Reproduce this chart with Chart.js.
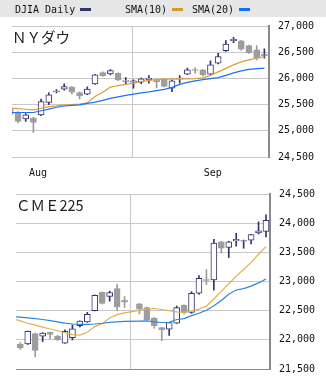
<!DOCTYPE html>
<html><head><meta charset="utf-8">
<script src="https://cdn.jsdelivr.net/npm/chart.js@4.4.1/dist/chart.umd.min.js"></script>
<style>
html,body{margin:0;padding:0;background:#fff;}
#wrap{position:relative;width:326px;height:376px;overflow:hidden;background:#fff;}
canvas{position:absolute;left:0;}
#hdr{position:absolute;left:0;top:0;width:326px;height:17px;background:#e6e6e6;font-family:"DejaVu Sans Mono",monospace;font-size:10px;color:#111;}
.lg{position:absolute;top:4px;line-height:12px;white-space:pre;}
.sw{position:absolute;top:8px;height:3px;width:11px;}
.ttl{position:absolute;font-family:"Noto Sans CJK JP",sans-serif;font-size:14.5px;line-height:14.5px;color:#222;white-space:pre;}
</style></head>
<body>
<div id="wrap">
<canvas id="c1" width="326" height="180" style="top:0;width:326px;height:180px"></canvas>
<canvas id="c2" width="326" height="203" style="top:180px;width:326px;height:203px"></canvas>
<div id="hdr">
  <span class="lg" style="left:15px">DJIA Daily</span><span class="sw" style="left:80px;background:#34346c"></span>
  <span class="lg" style="left:125px">SMA(10)</span><span class="sw" style="left:172px;background:#d49a30"></span>
  <span class="lg" style="left:192px">SMA(20)</span><span class="sw" style="left:239px;background:#1070ff"></span>
</div>
<div class="ttl" style="left:12px;top:30px">ＮＹダウ</div>
<div class="ttl" style="left:16px;top:198px">ＣＭＥ225</div>
</div>
<script>
// ---- NY Dow (DJIA daily) ----
const djDates = ['8/10','8/13','8/14','8/15','8/16','8/17','8/20','8/21','8/22','8/23','8/24','8/27','8/28','8/29','8/30','8/31','9/4','9/5','9/6','9/7','9/10','9/11','9/12','9/13','9/14','9/17','9/18','9/19','9/20','9/21','9/24','9/25','9/26','9/27'];
const djOpen  = [25420,25340,25226,25245,25307,25542,25745,25798,25836,25733,25703,25899,26115,26090,26103,25948,25931,25931,25981,25975,25994,25817,25995,26084,26170,26166,26084,26294,26534,26725,26720,26630,26548,26445];
const djHigh  = [25440,25370,25330,25260,25610,25727,25790,25899,25850,25745,25842,26080,26130,26172,26110,26019,25975,26010,26057,25990,26000,25970,26057,26199,26210,26175,26338,26485,26725,26790,26730,26640,26630,26567];
const djLow   = [25260,25150,25180,24970,25290,25500,25725,25780,25708,25613,25690,25890,26040,26070,25960,25893,25817,25900,25912,25823,25840,25752,25912,26075,26103,26050,26075,26280,26520,26687,26540,26480,26357,26389];
const djClose = [25313,25180,25305,25162,25560,25689,25760,25848,25741,25670,25798,26071,26057,26153,25975,25962,25956,25994,26008,25943,25848,25956,26010,26166,26158,26071,26262,26420,26662,26752,26561,26496,26389,26458];
const djSma10 = [25435,25426,25413,25403,25432,25464,25479,25498,25504,25512,25537,25657,25737,25836,25867,25890,25912,25941,25966,25979,25989,25991,25993,25994,25998,26014,26061,26128,26195,26262,26319,26357,26389,26420];
const djSma20 = [25351,25351,25351,25351,25384,25416,25451,25476,25489,25498,25527,25550,25584,25622,25651,25680,25703,25727,25746,25769,25794,25832,25890,25928,25956,25981,26000,26019,26061,26109,26147,26176,26189,26199];
const djTicks = [24500,25000,25500,26000,26500,27000];

// ---- CME Nikkei 225 ----
const cmeDates = ['8/10','8/13','8/14','8/15','8/16','8/17','8/20','8/21','8/22','8/23','8/24','8/27','8/28','8/29','8/30','8/31','9/3','9/4','9/5','9/6','9/7','9/10','9/11','9/12','9/13','9/14','9/17','9/18','9/19','9/20','9/21','9/24','9/25','9/26','9/27'];
const cmeOpen  = [null,21928,21928,22107,22063,22129,22059,21944,22036,22243,22308,22499,22814,22744,22879,22679,null,22618,22553,22373,22210,22183,22284,22591,22471,22798,23035,23026,23679,23586,23695,23690,23707,23831,23859];
const cmeHigh  = [null,21954,22150,22115,22125,22135,22080,22173,22254,22325,22471,22770,22820,22835,22950,22744,null,22625,22560,22385,22215,22300,22581,22600,22826,23100,23206,23723,23690,23690,23826,23710,23810,24022,24141];
const cmeLow   = [null,21835,21920,21709,21970,22014,21990,21940,21998,22222,22300,22495,22615,22662,22499,22553,null,22444,22340,22199,21985,22075,22280,22444,22455,22780,22945,22852,23488,23410,23606,23570,23646,23815,23766];
const cmeClose = [null,21863,22145,21819,22117,22091,21998,22145,22189,22320,22439,22765,22623,22809,22564,22646,null,22525,22346,22243,22173,22297,22553,22471,22798,23054,23020,23658,23570,23679,23723,23700,23805,23870,24050];
const cmeSma10 = [22365,22325,22284,22251,22218,22186,22156,22121,22088,22080,22129,22227,22276,22373,22431,22463,null,22504,22529,22537,22520,22499,22480,22471,22496,22529,22577,22700,22830,22961,23092,23206,23328,23467,23598];
const cmeSma20 = [22398,22390,22378,22362,22349,22329,22308,22287,22271,22264,22264,22271,22284,22300,22308,22316,null,22321,22325,22308,22297,22300,22349,22365,22414,22455,22507,22586,22675,22782,22855,22879,22920,22977,23043];
const cmeTicks = [21500,22000,22500,23000,23500,24000,24500];

const monthLabels = ['Aug','Sep'];
const monthLabelAt = [3.6, 26.3];

const NAVY = '#34346c', GRAY = '#9d9d9d', GRID = '#c8c8c8', AXIS = '#8a8a8a';
const MONO = "'DejaVu Sans Mono', monospace";

function build(id, dates, O, H, L, C, s10, s20, cfg) {
  const wick = [], wickCol = [], body = [], bodyFill = [], bodyLine = [];
  dates.forEach((d, i) => {
    if (O[i] == null) return;
    const up = C[i] >= O[i];
    wick.push({x: i, y: [L[i], H[i]]}); wickCol.push(up ? NAVY : GRAY);
    body.push({x: i, y: [O[i], C[i]]}); bodyFill.push(up ? '#ffffff' : GRAY); bodyLine.push(up ? NAVY : GRAY);
  });
  const line = (arr, col) => ({type: 'line', data: arr.map((v, i) => ({x: i, y: v})), borderColor: col,
    borderWidth: 1.2, pointRadius: 0, tension: 0, spanGaps: true, fill: false, order: 1});
  const firstSep = dates.findIndex(d => d.startsWith('9/'));
  // vertical grid line at the first September session, positioned by the x scale
  const monthLine = {
    id: 'monthLine',
    beforeDatasetsDraw(chart) {
      if (firstSep < 0) return;
      const x = chart.scales.x.getPixelForValue(firstSep);
      const {top, bottom} = chart.chartArea;
      const ctx = chart.ctx;
      ctx.save();
      ctx.strokeStyle = GRID; ctx.lineWidth = 1;
      const px = Math.floor(x) - 0.5;
      ctx.beginPath(); ctx.moveTo(px, top); ctx.lineTo(px, bottom); ctx.stroke();
      ctx.restore();
    }
  };
  const ticks = cfg.ticks;
  const scales = {
    x: Object.assign({type: 'linear', min: cfg.xmin, max: cfg.xmax, offset: false}, cfg.labels ? {
      afterBuildTicks: s => { s.ticks = monthLabelAt.map(v => ({value: v})); },
      afterFit: s => { s.height = 23; },
      ticks: {autoSkip: false, maxRotation: 0, padding: 10, color: '#111', font: {family: MONO, size: 10, lineHeight: 1.2},
        callback: (v, i) => monthLabels[i]},
      grid: {display: false, drawTicks: false}, border: {display: false}
    } : {
      afterFit: s => { s.height = 0; },
      ticks: {display: false},
      grid: {display: false, drawTicks: false}, border: {display: true, color: AXIS, width: 1}
    }),
    y: {type: 'linear', position: 'right', min: ticks[0], max: ticks[ticks.length - 1],
      afterBuildTicks: s => { s.ticks = ticks.map(v => ({value: v})); },
      afterFit: s => { s.width = cfg.yw; },
      ticks: {padding: 9, color: '#111', font: {family: MONO, size: 10, lineHeight: 1},
        callback: v => v.toLocaleString('en-US')},
      grid: {color: GRID, drawTicks: false}, border: {display: true, color: AXIS, width: 2}}
  };
  return new Chart(document.getElementById(id), {
    type: 'bar',
    data: {datasets: [
      {data: wick, backgroundColor: wickCol, borderWidth: 0, barThickness: 1, grouped: false, order: 3, clip: 0},
      {data: body, backgroundColor: bodyFill, borderColor: bodyLine, borderWidth: 1, borderSkipped: false,
        barThickness: 6, grouped: false, order: 2, clip: 0},
      line(s20, cfg.blue),
      line(s10, cfg.orange)
    ]},
    options: {
      responsive: false, animation: false, events: [],
      layout: {padding: cfg.padding},
      plugins: {legend: {display: false}, tooltip: {enabled: false}},
      scales: scales
    },
    plugins: [monthLine]
  });
}

build('c1', djDates, djOpen, djHigh, djLow, djClose, djSma10, djSma20, {
  ticks: djTicks, xmin: 0.22, xmax: 33.6, yw: 57, labels: true,
  padding: {left: 12, top: 26.3, right: 0, bottom: 0},
  orange: '#d8a040', blue: '#1f6fff'
});
build('c2', cmeDates, cmeOpen, cmeHigh, cmeLow, cmeClose, cmeSma10, cmeSma20, {
  ticks: cmeTicks, xmin: 0.42, xmax: 34.54, yw: 56, labels: false,
  padding: {left: 16, top: 5.3, right: 0, bottom: 6.5},
  orange: '#e0b050', blue: '#2a88e0'
});
</script>
</body></html>
